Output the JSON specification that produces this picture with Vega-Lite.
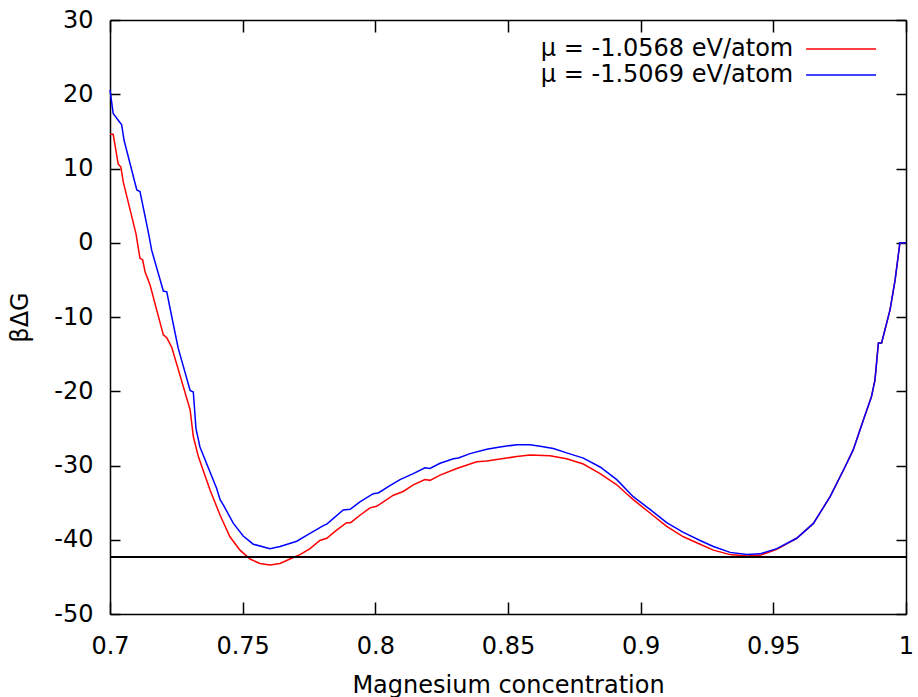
{
  "$schema": "https://vega.github.io/schema/vega-lite/v6.json",
  "width": 796,
  "height": 594,
  "autosize": {"type": "none"},
  "padding": {"left": 110, "top": 20, "right": 12, "bottom": 83},
  "background": "white",
  "config": {
    "view": {"stroke": null},
    "font": "DejaVu Sans",
    "locale": {"number": {"decimal": ".", "thousands": ",", "grouping": [3], "currency": ["", ""], "minus": "-"}},
    "axis": {
      "domainColor": "black", "domainWidth": 1.5,
      "labelFont": "DejaVu Sans", "labelFontSize": 24, "labelColor": "black",
      "labelFlush": false, "labelOverlap": false,
      "titleFont": "DejaVu Sans", "titleFontSize": 24, "titleFontWeight": "normal", "titleColor": "black"
    }
  },
  "data": {
    "values": [
      {"c": 0.7000, "g": 14.6, "mu": "μ = -1.0568 eV/atom"},
      {"c": 0.7012, "g": 14.6, "mu": "μ = -1.0568 eV/atom"},
      {"c": 0.7031, "g": 10.6, "mu": "μ = -1.0568 eV/atom"},
      {"c": 0.7041, "g": 10.2, "mu": "μ = -1.0568 eV/atom"},
      {"c": 0.7050, "g": 8.2, "mu": "μ = -1.0568 eV/atom"},
      {"c": 0.7098, "g": 1.2, "mu": "μ = -1.0568 eV/atom"},
      {"c": 0.7113, "g": -2.1, "mu": "μ = -1.0568 eV/atom"},
      {"c": 0.7123, "g": -2.3, "mu": "μ = -1.0568 eV/atom"},
      {"c": 0.7132, "g": -3.9, "mu": "μ = -1.0568 eV/atom"},
      {"c": 0.7151, "g": -5.7, "mu": "μ = -1.0568 eV/atom"},
      {"c": 0.7201, "g": -12.4, "mu": "μ = -1.0568 eV/atom"},
      {"c": 0.7214, "g": -12.8, "mu": "μ = -1.0568 eV/atom"},
      {"c": 0.7233, "g": -14.1, "mu": "μ = -1.0568 eV/atom"},
      {"c": 0.7302, "g": -22.5, "mu": "μ = -1.0568 eV/atom"},
      {"c": 0.7314, "g": -26.1, "mu": "μ = -1.0568 eV/atom"},
      {"c": 0.7333, "g": -28.8, "mu": "μ = -1.0568 eV/atom"},
      {"c": 0.7377, "g": -33.3, "mu": "μ = -1.0568 eV/atom"},
      {"c": 0.7415, "g": -36.7, "mu": "μ = -1.0568 eV/atom"},
      {"c": 0.7452, "g": -39.6, "mu": "μ = -1.0568 eV/atom"},
      {"c": 0.7490, "g": -41.4, "mu": "μ = -1.0568 eV/atom"},
      {"c": 0.7528, "g": -42.6, "mu": "μ = -1.0568 eV/atom"},
      {"c": 0.7565, "g": -43.2, "mu": "μ = -1.0568 eV/atom"},
      {"c": 0.7603, "g": -43.4, "mu": "μ = -1.0568 eV/atom"},
      {"c": 0.7641, "g": -43.2, "mu": "μ = -1.0568 eV/atom"},
      {"c": 0.7678, "g": -42.6, "mu": "μ = -1.0568 eV/atom"},
      {"c": 0.7716, "g": -42.0, "mu": "μ = -1.0568 eV/atom"},
      {"c": 0.7754, "g": -41.2, "mu": "μ = -1.0568 eV/atom"},
      {"c": 0.7791, "g": -40.1, "mu": "μ = -1.0568 eV/atom"},
      {"c": 0.7817, "g": -39.8, "mu": "μ = -1.0568 eV/atom"},
      {"c": 0.7854, "g": -38.7, "mu": "μ = -1.0568 eV/atom"},
      {"c": 0.7892, "g": -37.7, "mu": "μ = -1.0568 eV/atom"},
      {"c": 0.7907, "g": -37.7, "mu": "μ = -1.0568 eV/atom"},
      {"c": 0.7942, "g": -36.7, "mu": "μ = -1.0568 eV/atom"},
      {"c": 0.7980, "g": -35.7, "mu": "μ = -1.0568 eV/atom"},
      {"c": 0.8005, "g": -35.5, "mu": "μ = -1.0568 eV/atom"},
      {"c": 0.8068, "g": -34.0, "mu": "μ = -1.0568 eV/atom"},
      {"c": 0.8105, "g": -33.5, "mu": "μ = -1.0568 eV/atom"},
      {"c": 0.8143, "g": -32.6, "mu": "μ = -1.0568 eV/atom"},
      {"c": 0.8187, "g": -31.9, "mu": "μ = -1.0568 eV/atom"},
      {"c": 0.8206, "g": -32.0, "mu": "μ = -1.0568 eV/atom"},
      {"c": 0.8244, "g": -31.3, "mu": "μ = -1.0568 eV/atom"},
      {"c": 0.8307, "g": -30.4, "mu": "μ = -1.0568 eV/atom"},
      {"c": 0.8382, "g": -29.5, "mu": "μ = -1.0568 eV/atom"},
      {"c": 0.8420, "g": -29.4, "mu": "μ = -1.0568 eV/atom"},
      {"c": 0.8495, "g": -29.0, "mu": "μ = -1.0568 eV/atom"},
      {"c": 0.8533, "g": -28.8, "mu": "μ = -1.0568 eV/atom"},
      {"c": 0.8583, "g": -28.6, "mu": "μ = -1.0568 eV/atom"},
      {"c": 0.8658, "g": -28.7, "mu": "μ = -1.0568 eV/atom"},
      {"c": 0.8721, "g": -29.1, "mu": "μ = -1.0568 eV/atom"},
      {"c": 0.8784, "g": -29.8, "mu": "μ = -1.0568 eV/atom"},
      {"c": 0.8847, "g": -31.1, "mu": "μ = -1.0568 eV/atom"},
      {"c": 0.8910, "g": -32.6, "mu": "μ = -1.0568 eV/atom"},
      {"c": 0.8947, "g": -33.8, "mu": "μ = -1.0568 eV/atom"},
      {"c": 0.8972, "g": -34.6, "mu": "μ = -1.0568 eV/atom"},
      {"c": 0.9035, "g": -36.4, "mu": "μ = -1.0568 eV/atom"},
      {"c": 0.9098, "g": -38.2, "mu": "μ = -1.0568 eV/atom"},
      {"c": 0.9161, "g": -39.6, "mu": "μ = -1.0568 eV/atom"},
      {"c": 0.9224, "g": -40.6, "mu": "μ = -1.0568 eV/atom"},
      {"c": 0.9274, "g": -41.4, "mu": "μ = -1.0568 eV/atom"},
      {"c": 0.9337, "g": -42.0, "mu": "μ = -1.0568 eV/atom"},
      {"c": 0.9400, "g": -42.2, "mu": "μ = -1.0568 eV/atom"},
      {"c": 0.9450, "g": -42.1, "mu": "μ = -1.0568 eV/atom"},
      {"c": 0.9513, "g": -41.3, "mu": "μ = -1.0568 eV/atom"},
      {"c": 0.9588, "g": -39.8, "mu": "μ = -1.0568 eV/atom"},
      {"c": 0.9651, "g": -37.8, "mu": "μ = -1.0568 eV/atom"},
      {"c": 0.9714, "g": -34.2, "mu": "μ = -1.0568 eV/atom"},
      {"c": 0.9770, "g": -30.2, "mu": "μ = -1.0568 eV/atom"},
      {"c": 0.9801, "g": -27.9, "mu": "μ = -1.0568 eV/atom"},
      {"c": 0.9839, "g": -23.9, "mu": "μ = -1.0568 eV/atom"},
      {"c": 0.9870, "g": -20.7, "mu": "μ = -1.0568 eV/atom"},
      {"c": 0.9883, "g": -18.5, "mu": "μ = -1.0568 eV/atom"},
      {"c": 0.9896, "g": -13.5, "mu": "μ = -1.0568 eV/atom"},
      {"c": 0.9908, "g": -13.5, "mu": "μ = -1.0568 eV/atom"},
      {"c": 0.9940, "g": -9.0, "mu": "μ = -1.0568 eV/atom"},
      {"c": 0.9959, "g": -5.0, "mu": "μ = -1.0568 eV/atom"},
      {"c": 0.9977, "g": 0.0, "mu": "μ = -1.0568 eV/atom"},
      {"c": 1.0000, "g": 0.0, "mu": "μ = -1.0568 eV/atom"},

      {"c": 0.7000, "g": 20.6, "mu": "μ = -1.5069 eV/atom"},
      {"c": 0.7012, "g": 17.4, "mu": "μ = -1.5069 eV/atom"},
      {"c": 0.7031, "g": 16.5, "mu": "μ = -1.5069 eV/atom"},
      {"c": 0.7044, "g": 15.9, "mu": "μ = -1.5069 eV/atom"},
      {"c": 0.7053, "g": 13.8, "mu": "μ = -1.5069 eV/atom"},
      {"c": 0.7101, "g": 7.1, "mu": "μ = -1.5069 eV/atom"},
      {"c": 0.7113, "g": 6.9, "mu": "μ = -1.5069 eV/atom"},
      {"c": 0.7144, "g": 1.5, "mu": "μ = -1.5069 eV/atom"},
      {"c": 0.7157, "g": -1.0, "mu": "μ = -1.5069 eV/atom"},
      {"c": 0.7201, "g": -6.5, "mu": "μ = -1.5069 eV/atom"},
      {"c": 0.7214, "g": -6.6, "mu": "μ = -1.5069 eV/atom"},
      {"c": 0.7233, "g": -10.0, "mu": "μ = -1.5069 eV/atom"},
      {"c": 0.7257, "g": -14.2, "mu": "μ = -1.5069 eV/atom"},
      {"c": 0.7302, "g": -19.9, "mu": "μ = -1.5069 eV/atom"},
      {"c": 0.7314, "g": -20.1, "mu": "μ = -1.5069 eV/atom"},
      {"c": 0.7324, "g": -25.0, "mu": "μ = -1.5069 eV/atom"},
      {"c": 0.7339, "g": -27.5, "mu": "μ = -1.5069 eV/atom"},
      {"c": 0.7402, "g": -33.1, "mu": "μ = -1.5069 eV/atom"},
      {"c": 0.7415, "g": -34.6, "mu": "μ = -1.5069 eV/atom"},
      {"c": 0.7427, "g": -35.3, "mu": "μ = -1.5069 eV/atom"},
      {"c": 0.7465, "g": -37.8, "mu": "μ = -1.5069 eV/atom"},
      {"c": 0.7502, "g": -39.5, "mu": "μ = -1.5069 eV/atom"},
      {"c": 0.7540, "g": -40.6, "mu": "μ = -1.5069 eV/atom"},
      {"c": 0.7603, "g": -41.2, "mu": "μ = -1.5069 eV/atom"},
      {"c": 0.7641, "g": -40.9, "mu": "μ = -1.5069 eV/atom"},
      {"c": 0.7704, "g": -40.2, "mu": "μ = -1.5069 eV/atom"},
      {"c": 0.7741, "g": -39.4, "mu": "μ = -1.5069 eV/atom"},
      {"c": 0.7804, "g": -38.1, "mu": "μ = -1.5069 eV/atom"},
      {"c": 0.7817, "g": -37.9, "mu": "μ = -1.5069 eV/atom"},
      {"c": 0.7879, "g": -36.0, "mu": "μ = -1.5069 eV/atom"},
      {"c": 0.7905, "g": -35.9, "mu": "μ = -1.5069 eV/atom"},
      {"c": 0.7942, "g": -34.9, "mu": "μ = -1.5069 eV/atom"},
      {"c": 0.7992, "g": -33.8, "mu": "μ = -1.5069 eV/atom"},
      {"c": 0.8011, "g": -33.7, "mu": "μ = -1.5069 eV/atom"},
      {"c": 0.8055, "g": -32.7, "mu": "μ = -1.5069 eV/atom"},
      {"c": 0.8093, "g": -31.9, "mu": "μ = -1.5069 eV/atom"},
      {"c": 0.8143, "g": -31.1, "mu": "μ = -1.5069 eV/atom"},
      {"c": 0.8187, "g": -30.3, "mu": "μ = -1.5069 eV/atom"},
      {"c": 0.8206, "g": -30.4, "mu": "μ = -1.5069 eV/atom"},
      {"c": 0.8244, "g": -29.7, "mu": "μ = -1.5069 eV/atom"},
      {"c": 0.8294, "g": -29.1, "mu": "μ = -1.5069 eV/atom"},
      {"c": 0.8313, "g": -29.0, "mu": "μ = -1.5069 eV/atom"},
      {"c": 0.8357, "g": -28.4, "mu": "μ = -1.5069 eV/atom"},
      {"c": 0.8420, "g": -27.8, "mu": "μ = -1.5069 eV/atom"},
      {"c": 0.8470, "g": -27.5, "mu": "μ = -1.5069 eV/atom"},
      {"c": 0.8533, "g": -27.2, "mu": "μ = -1.5069 eV/atom"},
      {"c": 0.8583, "g": -27.2, "mu": "μ = -1.5069 eV/atom"},
      {"c": 0.8621, "g": -27.4, "mu": "μ = -1.5069 eV/atom"},
      {"c": 0.8671, "g": -27.7, "mu": "μ = -1.5069 eV/atom"},
      {"c": 0.8721, "g": -28.3, "mu": "μ = -1.5069 eV/atom"},
      {"c": 0.8784, "g": -29.0, "mu": "μ = -1.5069 eV/atom"},
      {"c": 0.8847, "g": -30.2, "mu": "μ = -1.5069 eV/atom"},
      {"c": 0.8910, "g": -31.9, "mu": "μ = -1.5069 eV/atom"},
      {"c": 0.8972, "g": -34.2, "mu": "μ = -1.5069 eV/atom"},
      {"c": 0.9035, "g": -35.9, "mu": "μ = -1.5069 eV/atom"},
      {"c": 0.9098, "g": -37.7, "mu": "μ = -1.5069 eV/atom"},
      {"c": 0.9161, "g": -39.0, "mu": "μ = -1.5069 eV/atom"},
      {"c": 0.9224, "g": -40.1, "mu": "μ = -1.5069 eV/atom"},
      {"c": 0.9274, "g": -40.9, "mu": "μ = -1.5069 eV/atom"},
      {"c": 0.9337, "g": -41.7, "mu": "μ = -1.5069 eV/atom"},
      {"c": 0.9400, "g": -42.0, "mu": "μ = -1.5069 eV/atom"},
      {"c": 0.9450, "g": -41.9, "mu": "μ = -1.5069 eV/atom"},
      {"c": 0.9513, "g": -41.2, "mu": "μ = -1.5069 eV/atom"},
      {"c": 0.9588, "g": -39.8, "mu": "μ = -1.5069 eV/atom"},
      {"c": 0.9651, "g": -37.8, "mu": "μ = -1.5069 eV/atom"},
      {"c": 0.9714, "g": -34.2, "mu": "μ = -1.5069 eV/atom"},
      {"c": 0.9770, "g": -30.2, "mu": "μ = -1.5069 eV/atom"},
      {"c": 0.9801, "g": -27.9, "mu": "μ = -1.5069 eV/atom"},
      {"c": 0.9839, "g": -23.9, "mu": "μ = -1.5069 eV/atom"},
      {"c": 0.9870, "g": -20.7, "mu": "μ = -1.5069 eV/atom"},
      {"c": 0.9883, "g": -18.5, "mu": "μ = -1.5069 eV/atom"},
      {"c": 0.9896, "g": -13.5, "mu": "μ = -1.5069 eV/atom"},
      {"c": 0.9908, "g": -13.5, "mu": "μ = -1.5069 eV/atom"},
      {"c": 0.9940, "g": -9.0, "mu": "μ = -1.5069 eV/atom"},
      {"c": 0.9959, "g": -5.0, "mu": "μ = -1.5069 eV/atom"},
      {"c": 0.9977, "g": 0.0, "mu": "μ = -1.5069 eV/atom"},
      {"c": 1.0000, "g": 0.0, "mu": "μ = -1.5069 eV/atom"}
    ]
  },
  "layer": [
    {
      "mark": {"type": "line", "strokeWidth": 1.5},
      "encoding": {
        "x": {
          "field": "c", "type": "quantitative",
          "scale": {"domain": [0.7, 1], "nice": false, "zero": false},
          "axis": {
            "orient": "bottom",
            "values": [0.7, 0.75, 0.8, 0.85, 0.9, 0.95, 1],
            "format": "~g",
            "grid": false,
            "ticks": true, "tickSize": -12, "tickColor": "black", "tickWidth": 1.5,
            "labelPadding": 32,
            "title": "Magnesium concentration",
            "titleY": 78, "titleBaseline": "alphabetic"
          }
        },
        "y": {
          "field": "g", "type": "quantitative",
          "scale": {"domain": [-50, 30], "nice": false, "zero": false},
          "axis": {
            "orient": "left",
            "values": [-50, -40, -30, -20, -10, 0, 10, 20, 30],
            "format": "d",
            "grid": false,
            "ticks": true, "tickSize": -10, "tickColor": "black", "tickWidth": 1.5,
            "labelPadding": 27,
            "title": "βΔG",
            "titleX": -83, "titleBaseline": "alphabetic"
          }
        },
        "color": {
          "field": "mu", "type": "nominal",
          "scale": {"domain": ["μ = -1.0568 eV/atom", "μ = -1.5069 eV/atom"], "range": ["#ff0000", "#0000ff"]},
          "legend": {
            "orient": "none", "legendX": 718.6, "legendY": 16.6,
            "title": null, "padding": 0,
            "symbolType": "M-3,0H3", "symbolSize": 544, "symbolStrokeWidth": 1.5,
            "labelFont": "DejaVu Sans", "labelFontSize": 24, "labelColor": "black",
            "labelAlign": "right", "labelOffset": -60.4, "labelLimit": 0,
            "rowPadding": 1
          }
        }
      }
    },
    {
      "mark": {"type": "rule", "color": "black", "strokeWidth": 1.5},
      "encoding": {
        "y": {"datum": -42.3, "type": "quantitative", "axis": null}
      }
    },
    {
      "mark": {"type": "point", "opacity": 0},
      "encoding": {
        "x": {
          "field": "c", "type": "quantitative",
          "axis": {"orient": "top", "values": [0.7, 0.75, 0.8, 0.85, 0.9, 0.95, 1], "labels": false, "title": null, "grid": false,
                   "ticks": true, "tickSize": -12, "tickColor": "black", "tickWidth": 1.5}
        },
        "y": {
          "field": "g", "type": "quantitative",
          "axis": {"orient": "right", "values": [-50, -40, -30, -20, -10, 0, 10, 20, 30], "labels": false, "title": null, "grid": false,
                   "ticks": true, "tickSize": -10, "tickColor": "black", "tickWidth": 1.5}
        }
      }
    }
  ],
  "resolve": {"axis": {"x": "independent", "y": "independent"}}
}
